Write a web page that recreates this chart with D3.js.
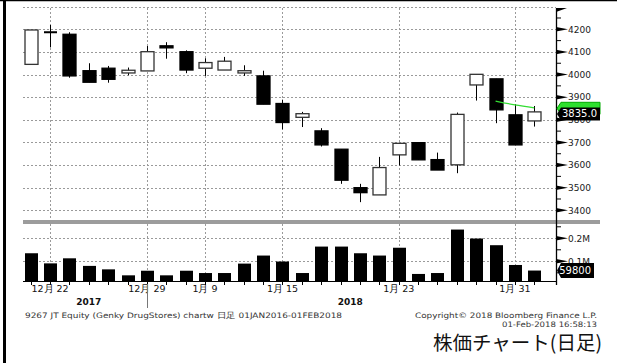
<!DOCTYPE html>
<html><head><meta charset="utf-8">
<script src="https://cdn.jsdelivr.net/npm/d3@7"></script>
<style>html,body{margin:0;padding:0;background:#fff;}svg{display:block;}</style>
</head><body>
<script>
// ---------- data ----------
const dates = ["2017-12-21","2017-12-22","2017-12-25","2017-12-26","2017-12-27","2017-12-28","2017-12-29",
  "2018-01-04","2018-01-05","2018-01-09","2018-01-10","2018-01-11","2018-01-12","2018-01-15","2018-01-16",
  "2018-01-17","2018-01-18","2018-01-19","2018-01-22","2018-01-23","2018-01-24","2018-01-25","2018-01-26",
  "2018-01-29","2018-01-30","2018-01-31","2018-02-01"];
const openP  = [4045,4187,4178,4017,4028,4007,4016,4127,4101,4028,4020,4007,3994,3872,3811,3751,3670,3500,3468,3645,3699,3624,3601,3954,3981,3822,3795];
const highP  = [4197,4219,4187,4050,4038,4031,4126,4143,4107,4072,4078,4041,4017,3889,3835,3763,3670,3517,3636,3696,3699,3655,3832,4001,3981,3869,3861];
const lowP   = [4045,4120,3986,3966,3964,3997,4016,4070,4006,3994,4020,3994,3869,3758,3768,3682,3517,3436,3468,3598,3623,3578,3564,3885,3785,3689,3770];
const closeP = [4197,4187,3994,3966,3979,4019,4101,4118,4020,4053,4059,4017,3869,3788,3827,3689,3533,3478,3589,3696,3623,3578,3824,4001,3844,3689,3835];
const volume = [135000,91000,113000,80000,65000,39000,59000,39000,59000,49000,49000,90000,125000,99000,49000,
  164000,164000,135000,125000,159000,45000,49000,238000,199000,170000,84000,59800];
const maDates = ["2018-01-30","2018-01-31","2018-02-01"];
const maValues = [3883,3866,3853];
const priceTicks = [3400,3500,3600,3700,3800,3900,4000,4100,4200,4300];
const priceMinor = [3450,3550,3650,3750,3850,3950,4050,4150,4250];
const volumeTicks = [100000,200000];
const volumeMinor = [50000,150000,250000];
const volumeTickLabels = ["0.1M","0.2M"];
const labelDates = ["2017-12-22","2017-12-29","2018-01-09","2018-01-15","2018-01-23","2018-01-31"];
const years = ["2017","2018"];
const lastPrice = 3835.0;
const lastVolume = 59800;
const footerLeft = "9267 JT Equity (Genky DrugStores) chartw  日足 01JAN2016-01FEB2018";
const footerRight1 = "Copyright\u00A9 2018 Bloomberg Finance L.P.";
const footerRight2 = "01-Feb-2018 16:58:13";
const title = "株価チャート(日足)";

// ---------- layout ----------
const W = 617, H = 363;
const plotL = 22, plotR = 556;
const priceTop = 8;
const axisY = 281;
const svg = d3.select("body").append("svg").attr("width", W).attr("height", H);
const font = "DejaVu Sans, sans-serif";

const x = d3.scaleBand().domain(dates).range([21, 544]).paddingInner(0).paddingOuter(0);
const cx = d => x(d) + x.bandwidth() / 2;
const y = d3.scaleLinear().domain([3400, 4200]).range([210.3, 29.3]);
const yv = d3.scaleLinear().domain([0, 200000]).range([284.3, 238.3]);

// frame
svg.append("line").attr("x1", 0).attr("x2", W).attr("y1", 0.5).attr("y2", 0.5).attr("stroke", "#000").attr("stroke-width", 1.5);
svg.append("line").attr("x1", 4.5).attr("x2", 4.5).attr("y1", 0).attr("y2", H).attr("stroke", "#000").attr("stroke-width", 3);

const grid = svg.append("g").attr("stroke", "#9a9a9a").attr("stroke-width", 1).attr("stroke-dasharray", "2,2");
grid.selectAll("line.hp").data(priceTicks).join("line")
  .attr("x1", plotL + 1).attr("x2", plotR).attr("y1", d => Math.round(y(d)) + 0.5).attr("y2", d => Math.round(y(d)) + 0.5);
grid.selectAll("line.hv").data(volumeTicks).join("line")
  .attr("x1", plotL + 1).attr("x2", plotR).attr("y1", d => Math.round(yv(d)) + 0.5).attr("y2", d => Math.round(yv(d)) + 0.5);
grid.selectAll("line.v").data(labelDates).join("line")
  .attr("x1", d => Math.round(cx(d)) + 0.5).attr("x2", d => Math.round(cx(d)) + 0.5)
  .attr("y1", priceTop).attr("y2", axisY);

// separator band
svg.append("rect").attr("x", plotL + 1).attr("y", 220).attr("width", 600 - plotL - 1).attr("height", 4).attr("fill", "#9c9c9c");

// candles
const bw = 13;
const cg = svg.append("g");
dates.forEach((d, i) => {
  const o = openP[i], c = closeP[i], h = highP[i], l = lowP[i];
  const xc = Math.round(cx(d)) + 0.5;
  cg.append("line").attr("x1", xc).attr("x2", xc).attr("y1", y(h)).attr("y2", y(l)).attr("stroke", "#000").attr("stroke-width", 1);
  const top = y(Math.max(o, c)), bot = y(Math.min(o, c));
  const up = c > o;
  const hgt = bot - top;
  if (hgt < 2) {
    cg.append("rect").attr("x", xc - bw / 2).attr("y", (top + bot) / 2 - 1).attr("width", bw).attr("height", 2).attr("fill", "#000");
  } else {
    cg.append("rect").attr("x", xc - bw / 2).attr("y", top).attr("width", bw).attr("height", hgt)
      .attr("fill", up ? "#fff" : "#000").attr("stroke", up ? "#333" : "#000").attr("stroke-width", 1.3);
  }
});

// moving average line
svg.append("path").datum(maDates.map((d, i) => [cx(d), y(maValues[i])]))
  .attr("d", d3.line().curve(d3.curveMonotoneX)).attr("fill", "none").attr("stroke", "#33dd33").attr("stroke-width", 1.3);

// volume bars
svg.append("g").selectAll("rect").data(dates).join("rect")
  .attr("x", d => Math.round(cx(d)) + 0.5 - bw / 2).attr("width", bw)
  .attr("y", (d, i) => yv(volume[i])).attr("height", (d, i) => axisY - yv(volume[i])).attr("fill", "#000");

// x axis
svg.append("line").attr("x1", plotL + 1).attr("x2", plotR).attr("y1", axisY + 0.5).attr("y2", axisY + 0.5).attr("stroke", "#000");
svg.append("g").selectAll("line").data(dates).join("line")
  .attr("x1", d => Math.round(cx(d)) + 0.5).attr("x2", d => Math.round(cx(d)) + 0.5)
  .attr("y1", axisY).attr("y2", axisY + 4).attr("stroke", "#000");
svg.append("g").selectAll("text").data(labelDates).join("text")
  .attr("x", d => cx(d)).attr("y", 292).attr("text-anchor", "middle")
  .attr("font-family", font).attr("font-size", 9.5).attr("fill", "#111")
  .text(d => { const t = d3.timeParse("%Y-%m-%d")(d); return (t.getMonth() + 1) + "月 " + t.getDate(); });
years.forEach(yr => {
  const ds = dates.filter(d => d.startsWith(yr));
  const mid = (cx(ds[0]) + cx(ds[ds.length - 1])) / 2;
  svg.append("text").attr("x", mid).attr("y", 304.5).attr("text-anchor", "middle")
    .attr("font-family", font).attr("font-size", 9).attr("font-weight", "bold").attr("fill", "#111").text(yr);
});
const last2017 = dates.filter(d => d.startsWith("2017")).pop();
svg.append("line").attr("x1", Math.round(cx(last2017)) + 0.5).attr("x2", Math.round(cx(last2017)) + 0.5)
  .attr("y1", 284).attr("y2", 308).attr("stroke", "#777");

// right axis
svg.append("line").attr("x1", plotR + 0.5).attr("x2", plotR + 0.5).attr("y1", priceTop).attr("y2", 285).attr("stroke", "#000").attr("stroke-width", 1.3);
svg.append("path").attr("d", `M${plotR},${priceTop}L${plotR + 11},${priceTop}L${plotR},${priceTop + 4}Z`).attr("fill", "#000");
const tri = (yy) => `M${plotR},${yy - 2.2}L${plotR + 12},${yy}L${plotR},${yy + 2.2}Z`;
svg.append("g").selectAll("path").data(priceTicks.filter(d => d <= 4200)).join("path").attr("d", d => tri(y(d))).attr("fill", "#000");
svg.append("g").selectAll("line").data(priceMinor).join("line")
  .attr("x1", plotR).attr("x2", plotR + 5).attr("y1", d => y(d)).attr("y2", d => y(d)).attr("stroke", "#000");
svg.append("g").selectAll("text").data(priceTicks.filter(d => d <= 4200)).join("text")
  .attr("x", 568).attr("y", d => y(d) + 3.3).attr("font-family", font).attr("font-size", 9).attr("fill", "#1a1a1a").text(d => d);
svg.append("g").selectAll("path").data(volumeTicks).join("path").attr("d", d => tri(yv(d))).attr("fill", "#000");
svg.append("g").selectAll("line").data(volumeMinor).join("line")
  .attr("x1", plotR).attr("x2", plotR + 5).attr("y1", d => yv(d)).attr("y2", d => yv(d)).attr("stroke", "#000");
svg.append("g").selectAll("text").data(volumeTicks).join("text")
  .attr("x", 568).attr("y", d => yv(d) + 3.3).attr("font-family", font).attr("font-size", 9).attr("fill", "#1a1a1a")
  .text((d, i) => volumeTickLabels[i]);

// tags
const tag = (cy, x2, h) => `M${plotR + 1},${cy}L${plotR + 5},${cy - h / 2}L${x2},${cy - h / 2}L${x2},${cy + h / 2}L${plotR + 5},${cy + h / 2}Z`;
const maLast = maValues[maValues.length - 1];
svg.append("path").attr("d", tag(y(maLast) + 0.5, 600, 12)).attr("fill", "#2ee02e").attr("stroke", "#0a0").attr("stroke-width", 1);
const pcy = y(lastPrice) + 2;
svg.append("path").attr("d", tag(pcy, 600, 13)).attr("fill", "#000");
svg.append("text").attr("x", 597).attr("y", pcy + 3.6).attr("text-anchor", "end").attr("font-family", font)
  .attr("font-size", 10).attr("fill", "#fff").text(lastPrice.toFixed(1));
const vcy = yv(lastVolume);
svg.append("path").attr("d", tag(vcy, 594, 15)).attr("fill", "#000");
svg.append("text").attr("x", 591).attr("y", vcy + 3.6).attr("text-anchor", "end").attr("font-family", font)
  .attr("font-size", 10).attr("fill", "#fff").text(lastVolume);

// footer
svg.append("text").attr("x", 25).attr("y", 317.5).attr("font-family", font).attr("font-size", 7.5).attr("fill", "#333")
  .attr("textLength", 317).attr("lengthAdjust", "spacingAndGlyphs").text(footerLeft);
svg.append("text").attr("x", 597).attr("y", 317.5).attr("text-anchor", "end").attr("font-family", font).attr("font-size", 7.5).attr("fill", "#333")
  .attr("textLength", 182).attr("lengthAdjust", "spacingAndGlyphs").text(footerRight1);
svg.append("text").attr("x", 597).attr("y", 326.7).attr("text-anchor", "end").attr("font-family", font).attr("font-size", 7.5).attr("fill", "#333")
  .attr("textLength", 95).attr("lengthAdjust", "spacingAndGlyphs").text(footerRight2);
svg.append("text").attr("x", 602).attr("y", 350).attr("text-anchor", "end").attr("font-family", "Noto Sans CJK JP, sans-serif")
  .attr("font-size", 19.5).attr("fill", "#111").text(title);
</script>
</body></html>
